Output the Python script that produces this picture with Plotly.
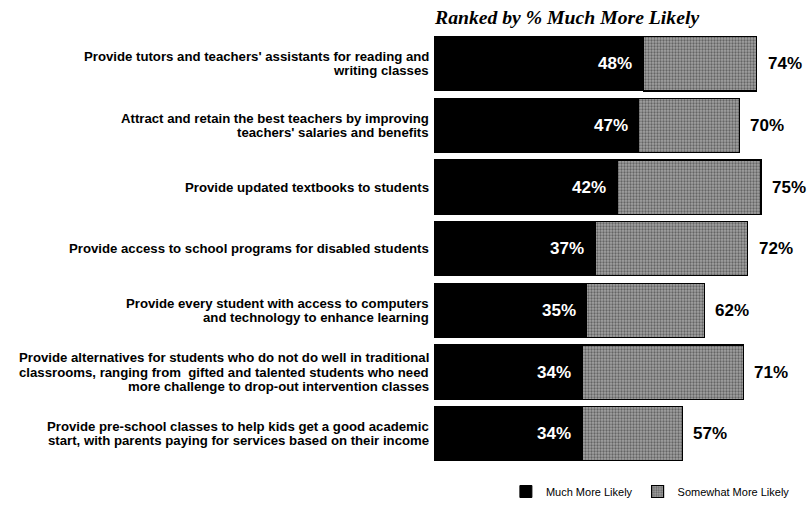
import plotly.graph_objects as go

# Survey items, top to bottom (ranked by "much more likely")
items = [
    "Provide tutors and teachers' assistants for reading and<br>writing classes",
    "Attract and retain the best teachers by improving<br>teachers' salaries and benefits",
    "Provide updated textbooks to students",
    "Provide access to school programs for disabled students",
    "Provide every student with access to computers<br>and technology to enhance learning",
    "Provide alternatives for students who do not do well in traditional<br>classrooms, ranging from  gifted and talented students who need<br>more challenge to drop-out intervention classes",
    "Provide pre-school classes to help kids get a good academic<br>start, with parents paying for services based on their income",
]
much_more = [48, 47, 42, 37, 35, 34, 34]
total_more = [74, 70, 75, 72, 62, 71, 57]
somewhat_more = [t - m for t, m in zip(total_more, much_more)]

FONT = "Arial, Liberation Sans, sans-serif"
LINE_H = 14.2  # px between wrapped label lines

fig = go.Figure()
fig.add_trace(go.Bar(
    y=items, x=much_more, orientation="h", name="Much More Likely",
    marker=dict(color="#000000", line=dict(color="#000000", width=1)),
    textposition="none",
))
fig.add_trace(go.Bar(
    y=items, x=somewhat_more, orientation="h", name="Somewhat More Likely",
    marker=dict(color="#8a8a8a", line=dict(color="#000000", width=1.2),
                pattern=dict(shape=".", fgcolor="#262626", bgcolor="#a2a2a2",
                             size=3, solidity=0.45)),
    textposition="none",
))

for cat, m, tot in zip(items, much_more, total_more):
    # "much more likely" share, white, inside the black segment
    fig.add_annotation(x=m, y=cat, xref="x", yref="y", text=f"<b>{m}%</b>",
                       showarrow=False, xanchor="right", xshift=-9,
                       font=dict(family=FONT, size=17, color="white"))
    # total share, to the right of the bar
    fig.add_annotation(x=tot, y=cat, xref="x", yref="y", text=f"<b>{tot}%</b>",
                       showarrow=False, xanchor="left", xshift=9,
                       font=dict(family=FONT, size=17, color="black"))
    # category label, right aligned line by line
    lines = cat.split("<br>")
    n = len(lines)
    for i, ln in enumerate(lines):
        fig.add_annotation(x=0, y=cat, xref="paper", yref="y", text=f"<b>{ln}</b>",
                           showarrow=False, xanchor="right", xshift=-3,
                           yshift=((n - 1) / 2 - i) * LINE_H,
                           font=dict(family=FONT, size=13.2, color="black"))

fig.add_annotation(x=0, y=1, xref="paper", yref="paper",
                   text="<b><i>Ranked by % Much More Likely</i></b>",
                   showarrow=False, xanchor="left", yanchor="middle",
                   xshift=-2, yshift=16,
                   font=dict(family="Times New Roman, Liberation Serif, serif",
                             size=19.7, color="black"))

fig.update_layout(
    width=807, height=506,
    margin=dict(l=434, r=23, t=32.5, b=18.5),
    barmode="stack", bargap=0.12,
    plot_bgcolor="white", paper_bgcolor="white",
    showlegend=True,
    legend=dict(orientation="h", xref="container", yref="container",
                x=0.985, xanchor="right", y=0.0, yanchor="bottom",
                font=dict(family=FONT, size=11, color="black"),
                itemwidth=30, traceorder="normal",
                bgcolor="rgba(0,0,0,0)"),
    xaxis=dict(range=[0, 80.3], visible=False, fixedrange=True),
    yaxis=dict(autorange="reversed", showline=False, ticks="", showgrid=False,
               showticklabels=False),
)

fig.write_html("out.html")
